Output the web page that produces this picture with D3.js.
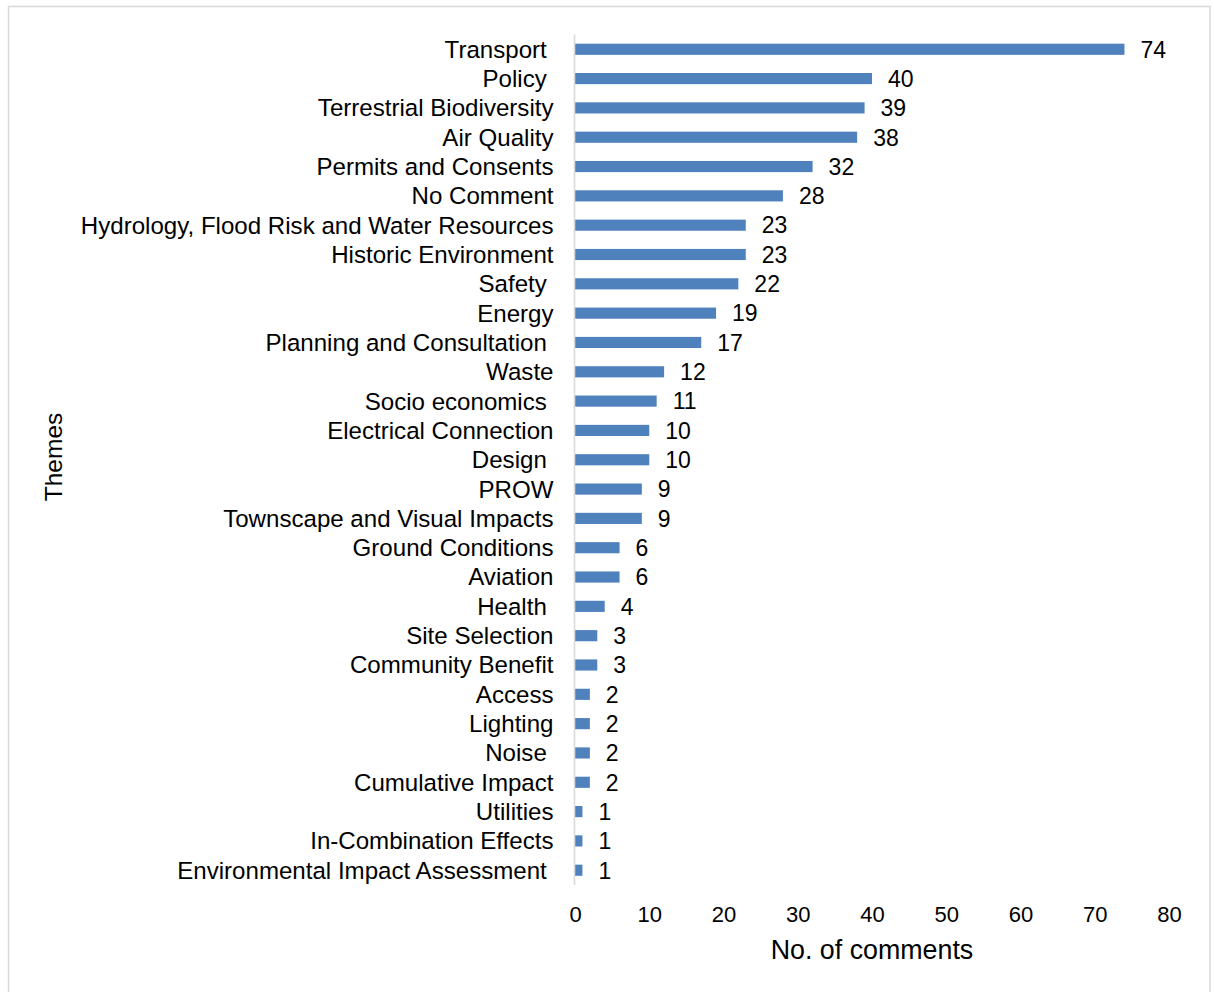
<!DOCTYPE html>
<html>
<head>
<meta charset="utf-8">
<script src="https://cdn.jsdelivr.net/npm/d3@7"></script>
<style>
  html, body { margin: 0; padding: 0; background: #ffffff; }
  svg { display: block; }
  text { font-family: "Liberation Sans", Arial, sans-serif; fill: #000; white-space: pre; }
</style>
</head>
<body>
<script>
// Comment counts per theme (source labels keep their trailing spaces)
const themes = [
  "Transport ", "Policy ", "Terrestrial Biodiversity", "Air Quality",
  "Permits and Consents", "No Comment", "Hydrology, Flood Risk and Water Resources",
  "Historic Environment", "Safety ", "Energy", "Planning and Consultation ",
  "Waste", "Socio economics ", "Electrical Connection", "Design ", "PROW",
  "Townscape and Visual Impacts", "Ground Conditions", "Aviation", "Health ",
  "Site Selection", "Community Benefit", "Access", "Lighting", "Noise ",
  "Cumulative Impact", "Utilities", "In-Combination Effects",
  "Environmental Impact Assessment "
];
const comments = [
  74, 40, 39, 38, 32, 28, 23, 23, 22, 19, 17, 12, 11, 10, 10, 9, 9,
  6, 6, 4, 3, 3, 2, 2, 2, 2, 1, 1, 1
];
const xTicks = [0, 10, 20, 30, 40, 50, 60, 70, 80];
const xTitle = "No. of comments";
const yTitle = "Themes";

const W = 1214, H = 992;
const plot = { left: 575, right: 1169, top: 34.6, bottom: 884.9 };

const svg = d3.select("body").append("svg")
  .attr("width", W).attr("height", H);

// Outer chart frame
svg.append("rect")
  .attr("x", 8.5).attr("y", 6.5)
  .attr("width", 1201.5).attr("height", 1000)
  .attr("fill", "#fff").attr("stroke", "#d9d9d9").attr("stroke-width", 1.5);

const x = d3.scaleLinear().domain([0, 80]).range([plot.left, plot.right]);
const y = d3.scaleBand().domain(themes).range([plot.top, plot.bottom]).paddingInner(0.62).paddingOuter(0.31);

// Bars
svg.append("g").selectAll("rect")
  .data(themes)
  .join("rect")
  .attr("x", x(0))
  .attr("y", d => y(d))
  .attr("width", (d, i) => x(comments[i]) - x(0))
  .attr("height", y.bandwidth())
  .attr("fill", "#4f81bd");

// Value labels
svg.append("g").selectAll("text")
  .data(themes)
  .join("text")
  .attr("x", (d, i) => x(comments[i]) + 16)
  .attr("y", d => y(d) + y.bandwidth() / 2)
  .attr("dy", "0.36em")
  .attr("font-size", "23px")
  .text((d, i) => comments[i]);

// Category axis
const yAxis = svg.append("g")
  .attr("transform", `translate(${plot.left - 0.5},0)`)
  .call(d3.axisLeft(y).tickSize(0).tickPadding(21));
yAxis.select(".domain")
  .attr("d", `M0,${plot.top}V${plot.bottom}`)
  .attr("stroke", "#d9d9d9").attr("stroke-width", 1.6);
yAxis.selectAll(".tick text")
  .attr("font-size", "24.1px")
  .attr("font-family", "Liberation Sans, Arial, sans-serif")
  .attr("fill", "#000")
  .attr("dy", "0.35em");

// Value axis (labels only)
const xAxis = svg.append("g")
  .attr("transform", `translate(0,${plot.bottom})`)
  .call(d3.axisBottom(x).tickValues(xTicks).tickSize(0).tickPadding(21));
xAxis.select(".domain").remove();
xAxis.selectAll(".tick text")
  .attr("font-size", "22px")
  .attr("font-family", "Liberation Sans, Arial, sans-serif")
  .attr("fill", "#000");

// Axis titles
svg.append("text")
  .attr("x", (plot.left + plot.right) / 2)
  .attr("y", 959)
  .attr("text-anchor", "middle")
  .attr("font-size", "26.8px")
  .text(xTitle);

svg.append("text")
  .attr("transform", `translate(62,457) rotate(-90)`)
  .attr("text-anchor", "middle")
  .attr("font-size", "24.5px")
  .text(yTitle);
</script>
</body>
</html>
